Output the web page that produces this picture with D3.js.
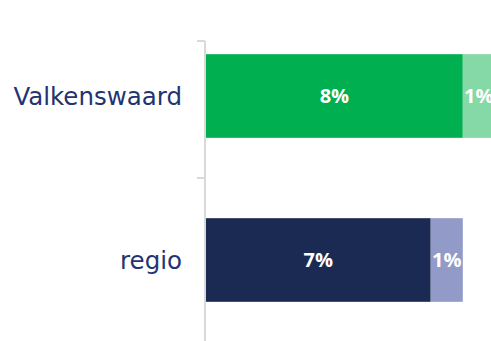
<!DOCTYPE html>
<html>
<head>
<meta charset="utf-8">
<script src="https://cdn.jsdelivr.net/npm/d3@7"></script>
<style>
  html, body { margin: 0; padding: 0; background: #fff; overflow: hidden; }
  svg { display: block; }
</style>
</head>
<body>
<svg id="chart" width="491" height="341"></svg>
<script>
// Share per area, split into two stacked parts
const categories = ["Valkenswaard", "regio"];
const partA = [8, 7];
const partB = [1, 1];
const labelsA = ["8%", "7%"];
const labelsB = ["1%", "1%"];
const colorsA = ["#00b050", "#1b2a52"];
const colorsB = ["#84d9a6", "#929ac8"];

const svg = d3.select("#chart");

const x = d3.scaleLinear().domain([0, 10]).range([206, 527]);
const y = d3.scaleBand()
  .domain(categories)
  .range([14, 342])
  .paddingInner(0.49)
  .paddingOuter(0.245);

const rows = categories.map((c, i) => ({
  cat: c, a: partA[i], b: partB[i],
  la: labelsA[i], lb: labelsB[i],
  ca: colorsA[i], cb: colorsB[i]
}));

// first segment
svg.selectAll("rect.a").data(rows).join("rect")
  .attr("class", "a")
  .attr("x", x(0))
  .attr("y", d => y(d.cat))
  .attr("width", d => x(d.a) - x(0))
  .attr("height", y.bandwidth())
  .attr("fill", d => d.ca);

// second segment
svg.selectAll("rect.b").data(rows).join("rect")
  .attr("class", "b")
  .attr("x", d => x(d.a))
  .attr("y", d => y(d.cat))
  .attr("width", d => x(d.a + d.b) - x(d.a))
  .attr("height", y.bandwidth())
  .attr("fill", d => d.cb);

// value labels
const valFont = "'Open Sans', 'Liberation Sans', sans-serif";
svg.selectAll("text.va").data(rows).join("text")
  .attr("class", "va")
  .attr("x", d => (x(0) + x(d.a)) / 2)
  .attr("y", d => y(d.cat) + y.bandwidth() / 2)
  .attr("dy", "0.36em")
  .attr("text-anchor", "middle")
  .attr("fill", "#fff")
  .attr("font-family", valFont)
  .attr("font-weight", 700)
  .attr("font-size", 20)
  .text(d => d.la);

svg.selectAll("text.vb").data(rows).join("text")
  .attr("class", "vb")
  .attr("x", d => (x(d.a) + x(d.a + d.b)) / 2)
  .attr("y", d => y(d.cat) + y.bandwidth() / 2)
  .attr("dy", "0.36em")
  .attr("text-anchor", "middle")
  .attr("fill", "#fff")
  .attr("font-family", valFont)
  .attr("font-weight", 700)
  .attr("font-size", 20)
  .text(d => d.lb);

// category axis
const axisX = 205;
const axisG = svg.append("g");
axisG.append("line")
  .attr("x1", axisX).attr("x2", axisX)
  .attr("y1", 41).attr("y2", 341)
  .attr("stroke", "#d9d9d9").attr("stroke-width", 2);
const tickYs = [41, y(categories[1]) - y.step() * y.paddingInner() / 2];
axisG.selectAll("line.tick").data(tickYs).join("line")
  .attr("class", "tick")
  .attr("x1", 197).attr("x2", axisX)
  .attr("y1", d => d).attr("y2", d => d)
  .attr("stroke", "#d9d9d9").attr("stroke-width", 2);

svg.selectAll("text.cat").data(rows).join("text")
  .attr("class", "cat")
  .attr("x", 182)
  .attr("y", d => y(d.cat) + y.bandwidth() / 2)
  .attr("dy", "0.35em")
  .attr("text-anchor", "end")
  .attr("fill", "#1f3470")
  .attr("font-family", "'DejaVu Sans', sans-serif")
  .attr("font-size", 24.5)
  .text(d => d.cat);
</script>
</body>
</html>
